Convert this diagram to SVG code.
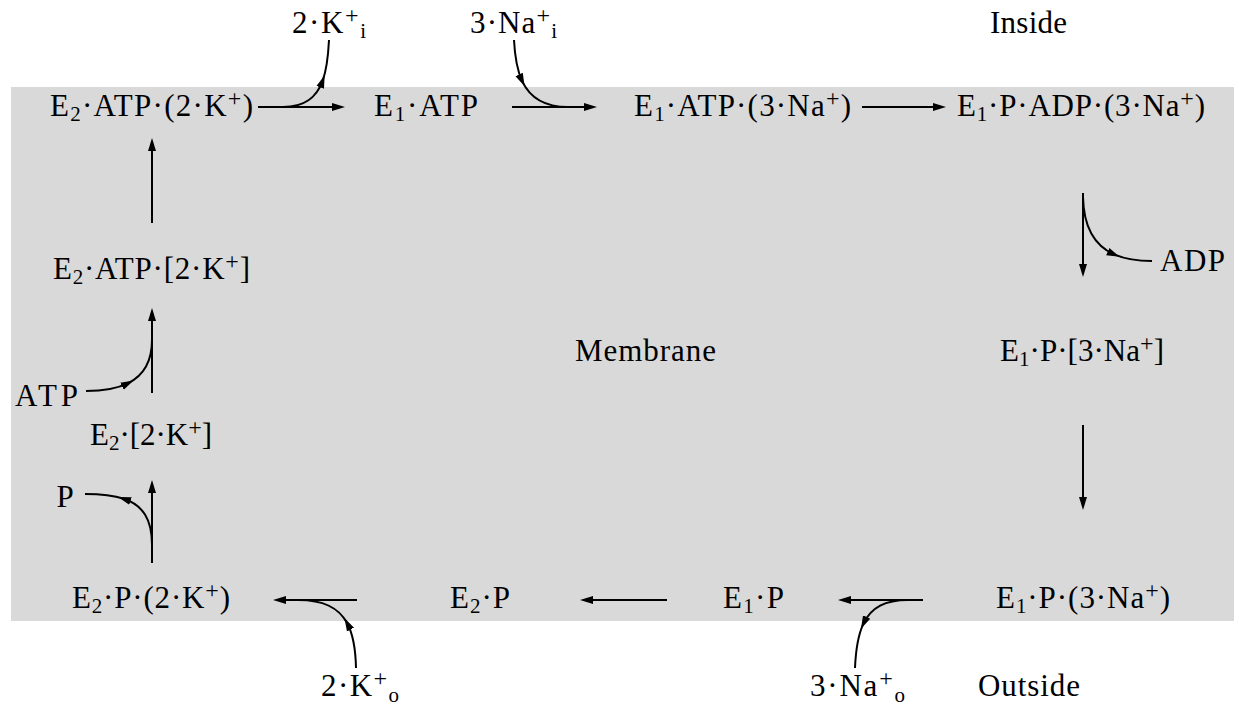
<svg xmlns="http://www.w3.org/2000/svg" width="1239" height="705" viewBox="0 0 1239 705">
<style>
  text { font-family: "Liberation Serif", "Times New Roman", serif; font-size: 31px; fill: #000; text-anchor: middle; }
  .s { font-size: 21px; }
  .p { font-size: 24px; }
  .c { fill: none; stroke: #000; stroke-width: 2; }
  .a { marker-end: url(#ah); }
  .m { marker-mid: url(#am); }
</style>
<defs>
  <marker id="ah" markerUnits="userSpaceOnUse" viewBox="0 0 14 10" markerWidth="14" markerHeight="10" refX="9" refY="5" orient="auto">
    <path d="M0,1 L13,5 L0,9 z" fill="#000"/>
  </marker>
  <marker id="am" markerUnits="userSpaceOnUse" viewBox="0 0 14 10" markerWidth="14" markerHeight="10" refX="7" refY="5" orient="auto">
    <path d="M0,1 L13,5 L0,9 z" fill="#000"/>
  </marker>
</defs>
<rect id="membrane-band" x="11" y="87" width="1223" height="534" fill="#d9d9d9"/>

<g id="connectors">
  <path class="c a" d="M258,107 H341"/>
  <path class="c a" d="M512,107 H593"/>
  <path class="c a" d="M862,107 H942"/>
  <path class="c a" d="M923,600 H842"/>
  <path class="c a" d="M667,600 H584"/>
  <path class="c a" d="M357,600 H277"/>
  <path class="c a" d="M152,563 V484"/>
  <path class="c a" d="M152,393 V312"/>
  <path class="c a" d="M152,223 V142"/>
  <path class="c a" d="M1083,193 V273"/>
  <path class="c a" d="M1083,425 V506"/>
  <path class="c m" d="M283,107 C305.2,107 316.6,97.28 322.6,80.86 C326.6,69.92 328.2,56 329,40"/>
  <path class="c m" d="M514,40 C514.8,56 517.04,69.92 522.06,80.86 C529.6,97.28 543.4,107 568,107"/>
  <path class="c m" d="M1083,197 C1083.65,228.2 1094.86,245.88 1114.17,254.43 C1124.56,259.04 1137.3,261 1152,261"/>
  <path class="c m" d="M908,600 C885.2,600 871.4,607.2 863.58,623.33 C858.36,634.08 855.8,648.8 855,668"/>
  <path class="c m" d="M356,668 C355.6,648.8 352.96,634.08 347.25,623.33 C338.68,607.2 323.2,600 298,600"/>
  <path class="c m" d="M152,545 C152,519 142.7,505.25 123.84,498.82 C113.68,495.35 100.75,494 85,494"/>
  <path class="c m" d="M86,391 C103.6,391 117.68,388.44 128.24,383.13 C144.08,375.16 152,361 152,340"/>
</g>

<g id="n-e2-atp-2k"><text x="151.5" y="116" textLength="203">E<tspan class="s" dy="5">2</tspan><tspan dy="-5">·ATP·(2·K</tspan><tspan class="p" dy="-10">+</tspan><tspan dy="10">)</tspan></text></g>
<g id="n-e1-atp"><text x="426" y="116" textLength="104">E<tspan class="s" dy="5">1</tspan><tspan dy="-5">·ATP</tspan></text></g>
<g id="n-e1-atp-3na"><text x="742.5" y="116" textLength="217">E<tspan class="s" dy="5">1</tspan><tspan dy="-5">·ATP·(3·Na</tspan><tspan class="p" dy="-10">+</tspan><tspan dy="10">)</tspan></text></g>
<g id="n-e1-p-adp-3na"><text x="1081" y="116" textLength="248">E<tspan class="s" dy="5">1</tspan><tspan dy="-5">·P·ADP·(3·Na</tspan><tspan class="p" dy="-10">+</tspan><tspan dy="10">)</tspan></text></g>
<g id="n-e1-p-occ-3na"><text x="1082" y="361" textLength="164">E<tspan class="s" dy="5">1</tspan><tspan dy="-5">·P·[3·Na</tspan><tspan class="p" dy="-10">+</tspan><tspan dy="10">]</tspan></text></g>
<g id="n-e1-p-3na"><text x="1083" y="608" textLength="174">E<tspan class="s" dy="5">1</tspan><tspan dy="-5">·P·(3·Na</tspan><tspan class="p" dy="-10">+</tspan><tspan dy="10">)</tspan></text></g>
<g id="n-e1-p"><text x="753.5" y="608" textLength="61">E<tspan class="s" dy="5">1</tspan><tspan dy="-5">·P</tspan></text></g>
<g id="n-e2-p"><text x="480" y="608" textLength="60">E<tspan class="s" dy="5">2</tspan><tspan dy="-5">·P</tspan></text></g>
<g id="n-e2-p-2k"><text x="151" y="608" textLength="158">E<tspan class="s" dy="5">2</tspan><tspan dy="-5">·P·(2·K</tspan><tspan class="p" dy="-10">+</tspan><tspan dy="10">)</tspan></text></g>
<g id="n-e2-occ-2k"><text x="151" y="445" textLength="122">E<tspan class="s" dy="5">2</tspan><tspan dy="-5">·[2·K</tspan><tspan class="p" dy="-10">+</tspan><tspan dy="10">]</tspan></text></g>
<g id="n-e2-atp-occ-2k"><text x="151.5" y="279" textLength="197">E<tspan class="s" dy="5">2</tspan><tspan dy="-5">·ATP·[2·K</tspan><tspan class="p" dy="-10">+</tspan><tspan dy="10">]</tspan></text></g>

<g id="l-2k-i"><text x="329" y="33" textLength="74">2·K<tspan class="p" dy="-10">+</tspan><tspan class="s" dy="15">i</tspan></text></g>
<g id="l-3na-i"><text x="513.5" y="33" textLength="87">3·Na<tspan class="p" dy="-10">+</tspan><tspan class="s" dy="15">i</tspan></text></g>
<g id="l-inside"><text x="1028.5" y="33" textLength="77">Inside</text></g>
<g id="l-adp"><text x="1192.5" y="271" textLength="65">ADP</text></g>
<g id="l-membrane"><text x="645.5" y="361" textLength="141">Membrane</text></g>
<g id="l-atp"><text x="46.5" y="406" textLength="63">ATP</text></g>
<g id="l-p"><text x="65" y="507">P</text></g>
<g id="l-2k-o"><text x="360" y="696" textLength="78">2·K<tspan class="p" dy="-10">+</tspan><tspan class="s" dy="16">o</tspan></text></g>
<g id="l-3na-o"><text x="857.5" y="696" textLength="95">3·Na<tspan class="p" dy="-10">+</tspan><tspan class="s" dy="16">o</tspan></text></g>
<g id="l-outside"><text x="1029" y="696" textLength="102">Outside</text></g>
</svg>
